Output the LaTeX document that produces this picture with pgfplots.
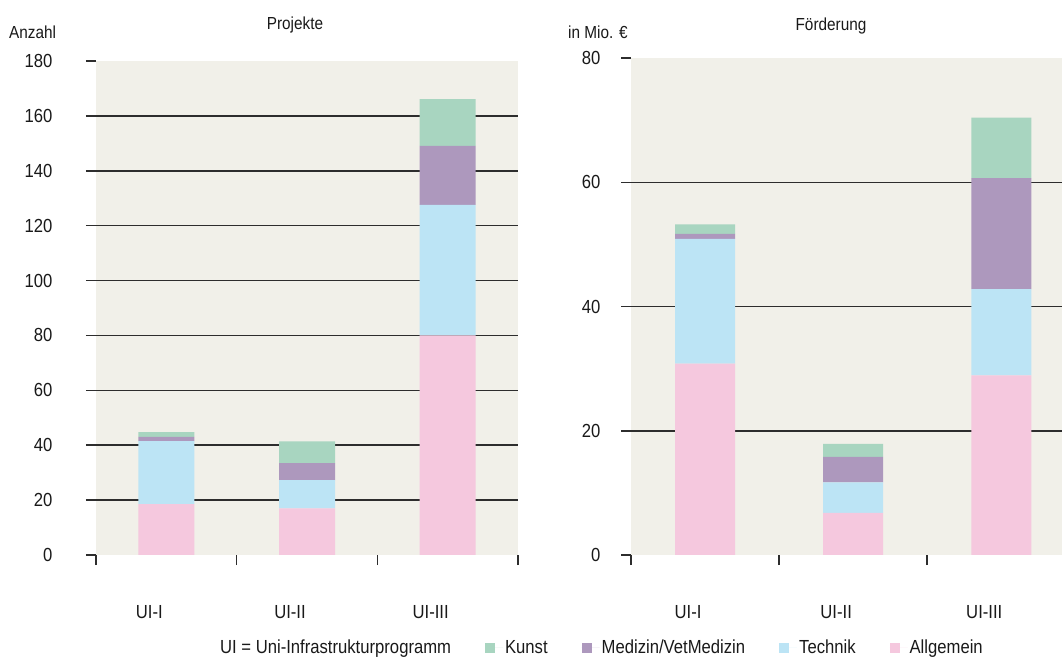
\documentclass[border=0pt]{standalone}
\usepackage{fontspec}
\setmainfont[FakeStretch=0.88]{Liberation Sans}
\usepackage{pgfplots}
\pgfplotsset{compat=1.18}
\definecolor{bgc}{RGB}{241,240,233}
\definecolor{kunstc}{RGB}{168,213,192}
\definecolor{medc}{RGB}{173,152,189}
\definecolor{techc}{RGB}{188,228,245}
\definecolor{allgc}{RGB}{245,200,222}
\definecolor{gridc}{RGB}{45,45,45}
\definecolor{txtc}{RGB}{25,25,25}
\newcommand{\ff}{\fontsize{17.5}{21}\selectfont}
\newcommand{\fl}{\fontsize{19}{23}\selectfont}
\pgfplotsset{
  sq/.style={legend image code/.code={\fill (0bp,-5bp) rectangle (10bp,5bp); \path (0bp,0bp) -- (18bp,0bp);}},
  mystyle/.style={
    scale only axis,
    ybar stacked,
    axis line style={draw=none},
    axis background/.style={fill=bgc},
    xmin=0.5,
    xtick={1,2,3},
    xticklabels={UI-I,UI-II,UI-III},
    major x tick style={draw=none},
    minor xtick={0.5,1.5,2.5,3.5},
    tick align=outside,
    tick pos=left,
    major tick length=10bp,
    minor tick length=10bp,
    minor x tick style={gridc, line width=1.5bp},
    y tick style={gridc, line width=1.5bp},
    ymajorgrids=true,
    major grid style={gridc, line width=1.5bp},
    extra y tick style={grid=none},
    ymin=0,
    /pgf/number format/assume math mode=true,
    tick label style={font=\fl, text=txtc},
    yticklabel style={anchor=east},
    xticklabel style={anchor=north, yshift=-37bp, xshift=-17bp},
    every axis plot/.append style={draw=none, sq},
  }
}
\begin{document}
\begin{tikzpicture}[font=\ff]
\begin{axis}[mystyle,
  at={(96bp,105bp)}, anchor=south west,
  width=422bp, height=494bp,
  xmax=3.5, ymax=180,
  ytick={20,40,...,160},
  extra y ticks={0,180},
  bar width=56bp,
  yticklabel style={xshift=-30bp},
  reverse legend,
  legend columns=-1,
  legend style={at={(axis description cs:0.289,-0.188)}, anchor=west, draw=none, fill=none, inner sep=0pt, font=\fl, text=txtc,
    /tikz/every even column/.append style={column sep=32bp}},
  legend cell align=left,
]
\addplot[fill=allgc, sq] coordinates {(1,18.5) (2,17) (3,80)};
\addlegendentry{Allgemein}
\addplot[fill=techc, sq] coordinates {(1,23) (2,10.3) (3,47.6)};
\addlegendentry{Technik}
\addplot[fill=medc, sq] coordinates {(1,1.5) (2,6.2) (3,21.5)};
\addlegendentry{Medizin/VetMedizin}
\addplot[fill=kunstc, sq] coordinates {(1,1.8) (2,7.9) (3,17)};
\addlegendentry{Kunst}
\addlegendimage{empty legend}
\addlegendentry{UI = Uni-Infrastrukturprogramm}
\end{axis}
\begin{axis}[mystyle,
  at={(631bp,105bp)}, anchor=south west,
  width=431bp, height=497bp,
  xmax=3.41, ymax=80,
  ytick={20,40,60},
  extra y ticks={0,80},
  bar width=60bp,
  yticklabel style={xshift=-17bp},
]
\addplot[fill=allgc] coordinates {(1,30.8) (2,6.8) (3,28.9)};
\addplot[fill=techc] coordinates {(1,20.1) (2,4.9) (3,13.9)};
\addplot[fill=medc] coordinates {(1,0.8) (2,4.1) (3,17.85)};
\addplot[fill=kunstc] coordinates {(1,1.5) (2,2.1) (3,9.75)};
\end{axis}
\node[anchor=base west, inner sep=0pt, text=txtc] at (9bp,621bp) {Anzahl};
\node[anchor=base, inner sep=0pt, text=txtc] at (295bp,630bp) {Projekte};
\node[anchor=base west, inner sep=0pt, text=txtc] at (568bp,621bp) {in Mio. €};
\node[anchor=base, inner sep=0pt, text=txtc] at (831bp,629bp) {Förderung};
\pgfresetboundingbox
\path (0bp,0bp) rectangle (1062bp,660bp);
\end{tikzpicture}
\end{document}
